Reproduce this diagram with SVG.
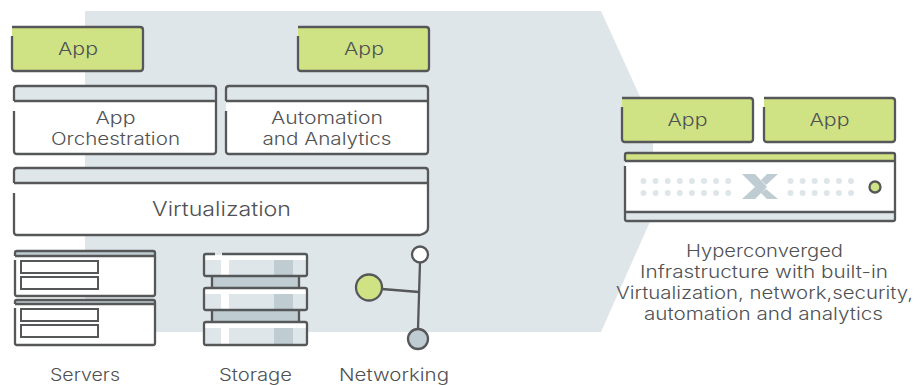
<svg xmlns="http://www.w3.org/2000/svg" width="923" height="385" viewBox="0 0 923 385">
<style>
text{font-family:"Inter","Noto Sans","Liberation Sans",sans-serif;font-weight:300;font-size:17px;fill:#4f5153;text-anchor:middle}
.s{fill:none;stroke:#555759;stroke-width:2.3;stroke-linejoin:round;stroke-linecap:butt}
.t{fill:none;stroke:#555759;stroke-width:2}
.g{fill:#cfe384}
.l{fill:#dfe6ea}
.m{fill:#bfccd2}
.w{fill:#fff}
.d{fill:#dfe6ea}
</style>
<rect width="923" height="385" fill="#fff"/>
<polygon id="backdrop" class="l" points="85,11 601,11 653,125 653,215 601,332 85,332"/>
<g id="app1">
<path class="g" d="M12 27H143V68Q143 71 140 71H15Q12 71 12 68Z"/>
<path class="s" d="M12 27H140Q143 27 143 30V68Q143 71 140 71H15Q12 71 12 68V36"/>
<text x="78" y="55" textLength="40" lengthAdjust="spacingAndGlyphs">App</text>
</g>
<g id="app2">
<path class="g" d="M298 27H429V68Q429 71 426 71H301Q298 71 298 68Z"/>
<path class="s" d="M298 27H426Q429 27 429 30V68Q429 71 426 71H301Q298 71 298 68V36"/>
<text x="364" y="55" textLength="40" lengthAdjust="spacingAndGlyphs">App</text>
</g>
<g id="orchestration">
<path class="w" d="M14 101H216V151Q216 154 213 154H17Q14 154 14 151Z"/>
<path class="l" d="M14 101V89Q14 86 17 86H213Q216 86 216 89V101Z"/>
<path class="s" d="M14 101V89Q14 86 17 86H213Q216 86 216 89V151Q216 154 213 154H17Q14 154 14 151V111M14 101H216"/>
<text x="115.500" y="124" textLength="40" lengthAdjust="spacingAndGlyphs">App</text>
<text x="115.500" y="145" textLength="129" lengthAdjust="spacingAndGlyphs">Orchestration</text>
</g>
<g id="automation">
<path class="w" d="M226 101H428V151Q428 154 425 154H229Q226 154 226 151Z"/>
<path class="l" d="M226 101V89Q226 86 229 86H425Q428 86 428 89V101Z"/>
<path class="s" d="M226 101V89Q226 86 229 86H425Q428 86 428 89V151Q428 154 425 154H229Q226 154 226 151V111M226 101H428"/>
<text x="327" y="124" textLength="112" lengthAdjust="spacingAndGlyphs">Automation</text>
<text x="327" y="145" textLength="129" lengthAdjust="spacingAndGlyphs">and Analytics</text>
</g>
<g id="virtualization">
<path class="w" d="M14 183H428V228L420 235H17Q14 235 14 232Z"/>
<path class="l" d="M14 183V171Q14 168 17 168H425Q428 168 428 171V183Z"/>
<path class="s" d="M14 183V171Q14 168 17 168H425Q428 168 428 171V228Q428 233 420 235H17Q14 235 14 232V193M14 183H428"/>
<text x="221.500" y="216" textLength="139" lengthAdjust="spacingAndGlyphs" style="font-size:20px">Virtualization</text>
</g>
<g id="servers">
<path class="w" d="M15 256H155V296H15Z"/>
<path class="m" d="M15 252H155V256H15Z"/>
<path class="s" d="M15 256V253Q15 251 17 251H153Q155 251 155 253V294Q155 296 153 296H17Q15 296 15 294V260M15 256H155"/>
<rect class="t" x="21" y="261" width="77" height="12"/>
<rect class="t" x="21" y="277" width="77" height="12"/>
<path class="w" d="M15 304H155V345H15Z"/>
<path class="m" d="M15 300H155V304H15Z"/>
<path class="s" d="M15 304V302Q15 300 17 300H153Q155 300 155 302V343Q155 345 153 345H17Q15 345 15 343V308M15 304H155"/>
<rect class="t" x="21" y="309" width="77" height="12"/>
<rect class="t" x="21" y="325" width="77" height="12"/>
<text x="85" y="381" textLength="70" lengthAdjust="spacingAndGlyphs">Servers</text>
</g>
<g id="storage">
<rect class="m" x="212" y="276" width="87" height="12"/>
<rect class="m" x="212" y="310" width="87" height="12"/>
<path class="s" d="M212 276V288M299 276V288M212 310V322M299 310V322"/>
<g id="disk1">
<rect class="l" x="204" y="254" width="103" height="22" rx="2"/>
<rect class="w" x="204" y="255" width="103" height="5"/>
<rect class="w" x="221" y="254" width="8" height="22"/>
<rect class="m" x="274" y="260" width="19" height="16"/>
<path class="s" d="M215 254H206Q204 254 204 256V274Q204 276 206 276H305Q307 276 307 274V256Q307 254 305 254H222"/>
</g>
<g id="disk2">
<rect class="l" x="204" y="288" width="103" height="22" rx="2"/>
<rect class="w" x="204" y="289" width="103" height="5"/>
<rect class="w" x="221" y="288" width="8" height="22"/>
<rect class="m" x="274" y="294" width="19" height="16"/>
<rect class="s" x="204" y="288" width="103" height="22" rx="2"/>
</g>
<g id="disk3">
<rect class="l" x="204" y="322" width="103" height="23" rx="2"/>
<rect class="w" x="204" y="323" width="103" height="5"/>
<rect class="w" x="221" y="322" width="8" height="23"/>
<rect class="m" x="274" y="328" width="19" height="17"/>
<rect class="s" x="204" y="322" width="103" height="23" rx="2"/>
</g>
<text x="255.500" y="381" textLength="73" lengthAdjust="spacingAndGlyphs">Storage</text>
</g>
<g id="connectors">
<path class="s" d="M420 262L418 329M382 289L419 292"/>
</g>
<g id="networking">
<circle cx="420" cy="254.500" r="8" fill="#fff" stroke="#555759" stroke-width="2.300"/>
<circle cx="369" cy="287.500" r="13" class="g" stroke="#555759" stroke-width="2.300"/>
<circle cx="418" cy="339" r="10" class="m" stroke="#555759" stroke-width="2.300"/>
<text x="394" y="381" textLength="110" lengthAdjust="spacingAndGlyphs">Networking</text>
</g>
<g id="app3">
<path class="g" d="M622 98H753V139Q753 142 750 142H625Q622 142 622 139Z"/>
<path class="s" d="M622 98H750Q753 98 753 101V139Q753 142 750 142H625Q622 142 622 139V107"/>
<text x="687.500" y="126" textLength="40" lengthAdjust="spacingAndGlyphs">App</text>
</g>
<g id="app4">
<path class="g" d="M764 98H895V139Q895 142 892 142H767Q764 142 764 139Z"/>
<path class="s" d="M764 98H892Q895 98 895 101V139Q895 142 892 142H767Q764 142 764 139V107"/>
<text x="829.500" y="126" textLength="40" lengthAdjust="spacingAndGlyphs">App</text>
</g>
<g id="hci-server">
<path class="w" d="M625 161H895V212H625Z"/>
<path class="g" d="M625 161V155Q625 153 627 153H893Q895 153 895 155V161Z"/>
<path class="l" d="M625 212H895V219Q895 221 893 221H627Q625 221 625 219Z"/>
<path class="s" d="M625 161V155Q625 153 627 153H893Q895 153 895 155V219Q895 221 893 221H627Q625 221 625 219V166M625 161H895M625 212H895"/>
<g class="d">
<circle cx="643.500" cy="181" r="3"/><circle cx="655.600" cy="181" r="3"/><circle cx="667.700" cy="181" r="3"/><circle cx="679.800" cy="181" r="3"/><circle cx="691.900" cy="181" r="3"/><circle cx="704" cy="181" r="3"/><circle cx="716.100" cy="181" r="3"/><circle cx="728.200" cy="181" r="3"/>
<circle cx="643.500" cy="193" r="3"/><circle cx="655.600" cy="193" r="3"/><circle cx="667.700" cy="193" r="3"/><circle cx="679.800" cy="193" r="3"/><circle cx="691.900" cy="193" r="3"/><circle cx="704" cy="193" r="3"/><circle cx="716.100" cy="193" r="3"/><circle cx="728.200" cy="193" r="3"/>
<circle cx="790.500" cy="181" r="3"/><circle cx="802.600" cy="181" r="3"/><circle cx="814.700" cy="181" r="3"/><circle cx="826.800" cy="181" r="3"/><circle cx="838.900" cy="181" r="3"/><circle cx="851" cy="181" r="3"/>
<circle cx="790.500" cy="193" r="3"/><circle cx="802.600" cy="193" r="3"/><circle cx="814.700" cy="193" r="3"/><circle cx="826.800" cy="193" r="3"/><circle cx="838.900" cy="193" r="3"/><circle cx="851" cy="193" r="3"/>
</g>
<path class="m" d="M742 174H755L767 187L755 199H742L755 187ZM778 174H767L761 180L766 185ZM778 199H767L761 193L766 189Z"/>
<circle cx="875" cy="187" r="5.500" class="g" stroke="#555759" stroke-width="2.300"/>
</g>
<g id="hci-label">
<text x="764.500" y="257" textLength="157" lengthAdjust="spacingAndGlyphs">Hyperconverged</text>
<text x="764" y="278" textLength="248" lengthAdjust="spacingAndGlyphs">Infrastructure with built-in</text>
<text x="764.500" y="299" textLength="297" lengthAdjust="spacingAndGlyphs">Virtualization, network,security,</text>
<text x="763.500" y="320" textLength="239" lengthAdjust="spacingAndGlyphs">automation and analytics</text>
</g>
</svg>
